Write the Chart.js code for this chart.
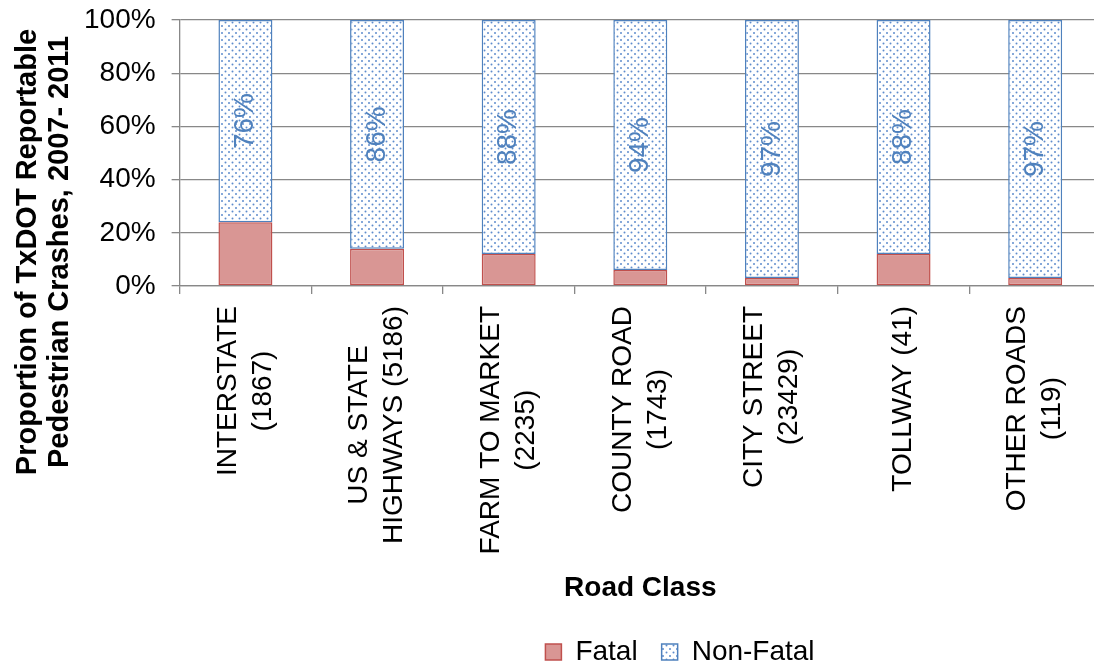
<!DOCTYPE html>
<html>
<head>
<meta charset="utf-8">
<script src="https://cdn.jsdelivr.net/npm/chart.js@4.4.1/dist/chart.umd.min.js"></script>
<style>
  html, body { margin: 0; padding: 0; background: #fff; overflow: hidden; }
  #wrap { width: 1101px; height: 666px; position: relative; }
</style>
</head>
<body>
<div id="wrap"><canvas id="c"></canvas></div>
<script>
// ---- data ----
const categories = [
  ["INTERSTATE", "(1867)"],
  ["US & STATE", "HIGHWAYS (5186)"],
  ["FARM TO MARKET", "(2235)"],
  ["COUNTY ROAD", "(1743)"],
  ["CITY STREET", "(23429)"],
  ["TOLLWAY (41)"],
  ["OTHER ROADS", "(119)"]
];
const fatalPct = [24, 14, 12, 6, 3, 12, 3];
const nonFatalPct = [76, 86, 88, 94, 97, 88, 97];
const yTicks = [0, 20, 40, 60, 80, 100];
const seriesNames = ["Fatal", "Non-Fatal"];
const yTitleLines = ["Proportion of TxDOT Reportable", "Pedestrian Crashes, 2007- 2011"];
const xTitle = "Road Class";

// ---- styling ----
const FONT = "'Liberation Sans', Arial, sans-serif";
Chart.defaults.font.family = FONT;
Chart.defaults.color = "#000";
const GRID = "#888888";

function dotPattern() {
  const p = document.createElement("canvas");
  p.width = 7; p.height = 7;
  const g = p.getContext("2d");
  g.fillStyle = "#ffffff";
  g.fillRect(0, 0, 7, 7);
  g.fillStyle = "#5f8ccc";
  g.beginPath(); g.arc(1.5, 1.5, 1.0, 0, Math.PI * 2); g.fill();
  g.beginPath(); g.arc(5, 5, 1.0, 0, Math.PI * 2); g.fill();
  return document.getElementById("c").getContext("2d").createPattern(p, "repeat");
}

// value labels centred in the Non-Fatal segments
const valueLabels = {
  id: "valueLabels",
  afterDatasetsDraw(chart) {
    const ctx = chart.ctx;
    const meta = chart.getDatasetMeta(1);
    ctx.save();
    ctx.font = "28px " + FONT;
    ctx.fillStyle = "#4f81bd";
    ctx.textAlign = "center";
    ctx.textBaseline = "middle";
    meta.data.forEach((el, i) => {
      const c = el.getCenterPoint();
      ctx.save();
      ctx.translate(c.x, c.y);
      ctx.rotate(-Math.PI / 2);
      ctx.fillText(nonFatalPct[i] + "%", 0, 0);
      ctx.restore();
    });
    ctx.restore();
  }
};

// category labels: rotated, lines centred on each other (Excel style)
const xLabels = {
  id: "xLabels",
  afterDraw(chart) {
    const ctx = chart.ctx;
    const sx = chart.scales.x;
    const lineGap = 35;
    const startY = sx.top + 20;
    ctx.save();
    ctx.font = "28px " + FONT;
    ctx.fillStyle = "#000";
    ctx.textAlign = "center";
    ctx.textBaseline = "middle";
    categories.forEach((lines, i) => {
      const cx = sx.getPixelForTick(i);
      const w = Math.max(...lines.map(t => ctx.measureText(t).width));
      const cy = startY + w / 2;
      lines.forEach((t, j) => {
        const x = cx + (j - (lines.length - 1) / 2) * lineGap;
        ctx.save();
        ctx.translate(x, cy);
        ctx.rotate(-Math.PI / 2);
        ctx.fillText(t, 0, 0);
        ctx.restore();
      });
    });
    ctx.restore();
  }
};

const yTitlePlugin = {
  id: "yTitle",
  afterDraw(chart) {
    const ctx = chart.ctx;
    ctx.save();
    ctx.font = "bold 29px " + FONT;
    ctx.fillStyle = "#000";
    ctx.textAlign = "center";
    ctx.textBaseline = "middle";
    const xs = [28, 60];
    yTitleLines.forEach((t, i) => {
      ctx.save();
      ctx.translate(xs[i], 252);
      ctx.rotate(-Math.PI / 2);
      ctx.fillText(t, 0, 0);
      ctx.restore();
    });
    ctx.restore();
  }
};

const LEGEND_PAD = 24;
const legendShift = {
  id: "legendShift",
  afterLayout(chart) {
    const lg = chart.legend;
    if (!lg) return;
    const dx = 680 - (lg.left + lg.right) / 2;
    lg.left += dx; lg.right += dx;
    const dy = (652 - LEGEND_PAD - 14) - lg.top;
    lg.top += dy; lg.bottom += dy;
  }
};

new Chart(document.getElementById("c"), {
  type: "bar",
  data: {
    labels: categories,
    datasets: [
      {
        label: seriesNames[0],
        data: fatalPct,
        backgroundColor: "#d99694",
        borderColor: "#c0504d",
        borderWidth: 1.5,
        borderSkipped: false,
        barPercentage: 0.41,
        categoryPercentage: 1
      },
      {
        label: seriesNames[1],
        data: nonFatalPct,
        backgroundColor: dotPattern(),
        borderColor: "#4f81bd",
        borderWidth: 1.5,
        borderSkipped: false,
        barPercentage: 0.41,
        categoryPercentage: 1
      }
    ]
  },
  options: {
    responsive: true,
    maintainAspectRatio: false,
    animation: false,
    devicePixelRatio: 1,
    layout: { padding: { left: 68, top: 20, right: 0, bottom: 0 } },
    plugins: {
      legend: {
        position: "bottom",
        labels: {
          boxWidth: 16,
          boxHeight: 16,
          padding: LEGEND_PAD,
          font: { size: 28 },
          color: "#000"
        }
      },
      tooltip: { enabled: false }
    },
    scales: {
      x: {
        stacked: true,
        afterFit(scale) { scale.height = 318; },
        grid: {
          offset: true,
          drawOnChartArea: false,
          drawTicks: true,
          tickLength: 8,
          color: GRID,
          lineWidth: 1.3
        },
        border: { display: true, color: GRID, width: 1.3 },
        ticks: { display: false, autoSkip: false },
        title: {
          display: true,
          text: xTitle,
          font: { size: 28, weight: "bold" },
          color: "#000",
          padding: { top: 0, bottom: -1 }
        }
      },
      y: {
        stacked: true,
        min: 0,
        max: 100,
        afterBuildTicks(axis) { axis.ticks = yTicks.map(v => ({ value: v })); },
        afterFit(scale) { scale.paddingTop = 0; scale.paddingBottom = 0; },
        grid: {
          color: GRID,
          lineWidth: 1.3,
          tickLength: 8,
          drawTicks: true
        },
        border: { display: true, color: GRID, width: 1.3 },
        ticks: {
          padding: 16,
          font: { size: 28 },
          color: "#000",
          callback: v => v + "%"
        }
      }
    }
  },
  plugins: [valueLabels, xLabels, yTitlePlugin, legendShift]
});
</script>
</body>
</html>
